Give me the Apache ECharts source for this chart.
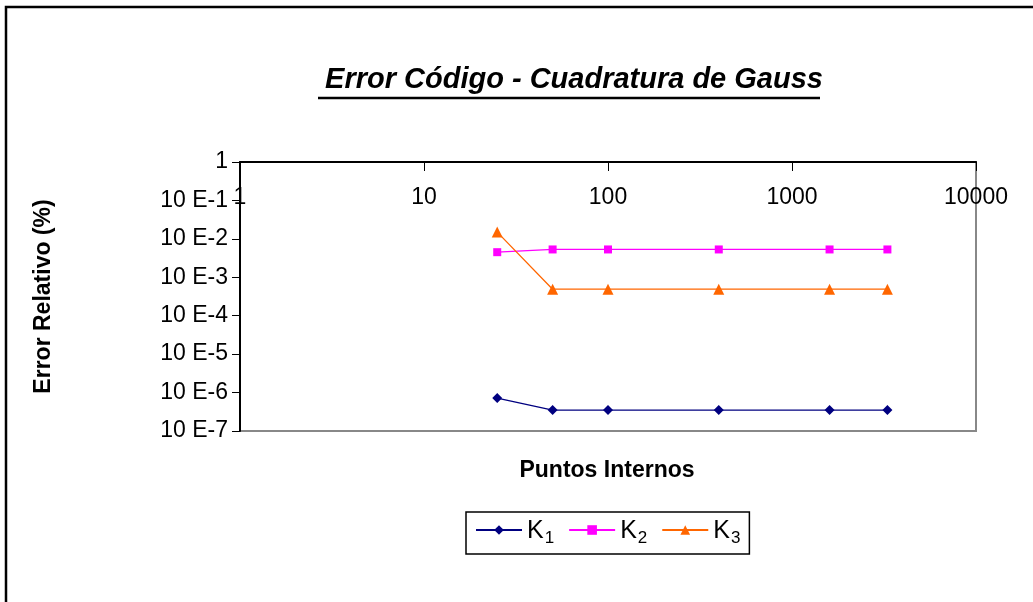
<!DOCTYPE html>
<html>
<head>
<meta charset="utf-8">
<script src="https://cdn.jsdelivr.net/npm/echarts@6/dist/echarts.min.js"></script>
<style>
html,body{margin:0;padding:0;background:#fff;}
#chart{width:1033px;height:602px;}
</style>
</head>
<body>
<div id="chart"></div>
<script>
// ---- data ----
const titleText = 'Error Código - Cuadratura de Gauss';
const xAxisTitle = 'Puntos Internos';
const yAxisTitle = 'Error Relativo (%)';
const puntos = [25, 50, 100, 400, 1600, 3300];
const seriesNames = ['K1', 'K2', 'K3'];
const k1 = [7.2e-7, 3.5e-7, 3.5e-7, 3.5e-7, 3.5e-7, 3.5e-7];
const k2 = [4.5e-3, 5.3e-3, 5.3e-3, 5.3e-3, 5.3e-3, 5.3e-3];
const k3 = [1.5e-2, 4.9e-4, 4.9e-4, 4.9e-4, 4.9e-4, 4.9e-4];
const xMin = 1, xMax = 10000;
const yMin = 1e-7, yMax = 1;

const FONT = '"Liberation Sans", Arial, sans-serif';
const colors = ['#000080', '#FF00FF', '#FF6600'];
const symbols = ['diamond', 'rect', 'triangle'];
const symbolSizes = [10, 8, 11];
const values = [k1, k2, k3];

const chart = echarts.init(document.getElementById('chart'), null, {renderer: 'canvas'});

const series = seriesNames.map((n, i) => ({
  name: n,
  type: 'line',
  data: puntos.map((x, j) => [x, values[i][j]]),
  symbol: symbols[i],
  symbolSize: symbolSizes[i],
  showAllSymbol: true,
  lineStyle: {color: colors[i], width: 1.3},
  itemStyle: {color: colors[i]},
  emphasis: {disabled: true},
  animation: false
}));

chart.setOption({
  animation: false,
  backgroundColor: '#ffffff',
  title: {
    text: titleText,
    left: 569,
    top: 60,
    textAlign: 'center',
    textStyle: {fontFamily: FONT, fontSize: 29, fontWeight: 'bold', fontStyle: 'italic', color: '#000'}
  },
  grid: {
    left: 240, top: 162, width: 736, height: 269,
    show: true, borderColor: '#888888', borderWidth: 2, backgroundColor: 'transparent',
    containLabel: false
  },
  legend: {
    data: seriesNames,
    left: 466, top: 512,
    padding: [7, 9, 7, 9],
    borderColor: '#000', borderWidth: 1.5,
    itemWidth: 46, itemHeight: 12, itemGap: 14,
    formatter: n => '{k|K}{s|' + n.slice(1) + '}',
    textStyle: {
      fontFamily: FONT, color: '#000',
      rich: {
        k: {fontFamily: FONT, fontSize: 25, color: '#000', verticalAlign: 'bottom', lineHeight: 28},
        s: {fontFamily: FONT, fontSize: 17, color: '#000', verticalAlign: 'bottom', lineHeight: 22, padding: [0, 0, -3, 1]}
      }
    }
  },
  xAxis: {
    type: 'log', logBase: 10, min: xMin, max: xMax,
    position: 'top',
    axisLine: {show: true, onZero: false, lineStyle: {color: '#000', width: 2}},
    axisTick: {show: true, inside: true, length: 9, lineStyle: {color: '#000', width: 1}},
    minorTick: {show: false},
    splitLine: {show: false},
    axisLabel: {inside: true, margin: 24, fontFamily: FONT, fontSize: 23, color: '#000',
      formatter: v => String(Math.round(v))}
  },
  yAxis: {
    type: 'log', logBase: 10, min: yMin, max: yMax,
    name: yAxisTitle, nameLocation: 'middle', nameGap: 185,
    nameTextStyle: {fontFamily: FONT, fontSize: 23, fontWeight: 'bold', color: '#000'},
    axisLine: {show: true, onZero: false, lineStyle: {color: '#000', width: 2}},
    axisTick: {show: true, inside: false, length: 8, lineStyle: {color: '#000', width: 1}},
    minorTick: {show: false},
    splitLine: {show: false},
    axisLabel: {margin: 12, fontFamily: FONT, fontSize: 23, color: '#000',
      formatter: v => { const e = Math.round(Math.log10(v)); return e === 0 ? '1' : '10 E' + e; }}
  },
  graphic: [
    {type: 'rect', shape: {x: 6, y: 7, width: 1200, height: 800}, style: {fill: 'none', stroke: '#000', lineWidth: 2.5}, silent: true, z: 100},
    {type: 'line', shape: {x1: 318, y1: 98, x2: 820, y2: 98}, style: {stroke: '#000', lineWidth: 2.5}, silent: true},
    {type: 'text', x: 607, y: 471, style: {text: xAxisTitle, font: 'bold 23px ' + FONT, fill: '#000', textAlign: 'center', textVerticalAlign: 'middle'}, silent: true}
  ],
  series: series
});
</script>
</body>
</html>
